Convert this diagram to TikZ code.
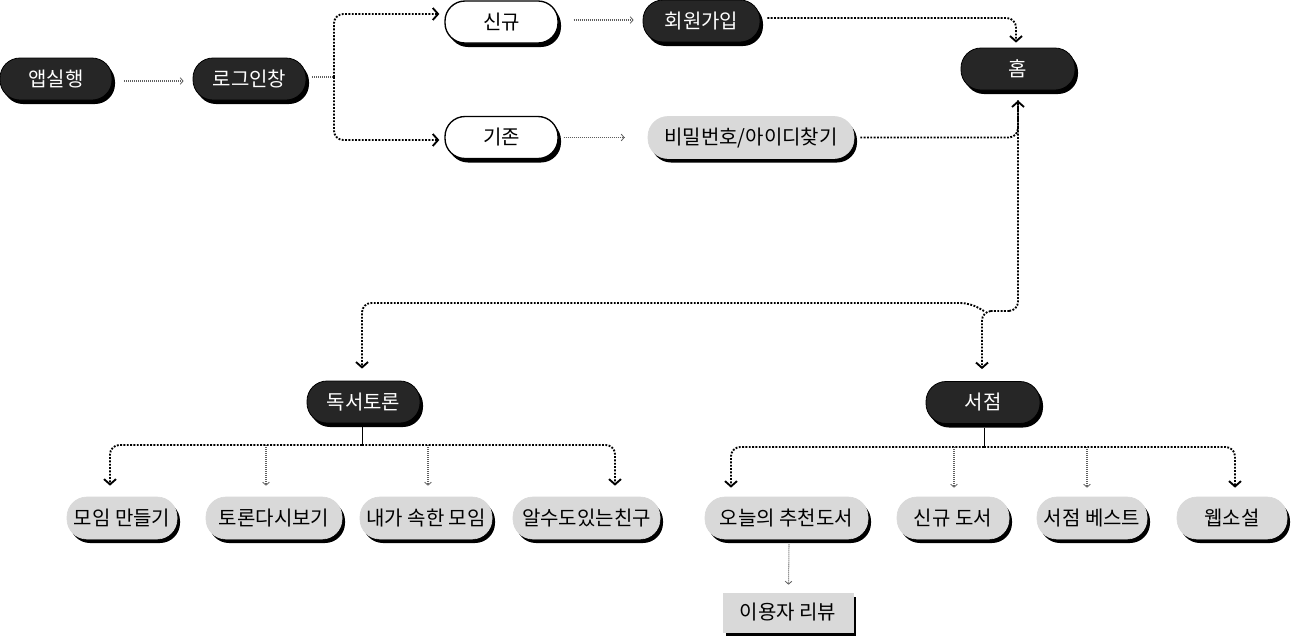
\documentclass[tikz,border=0pt]{standalone}
\usepackage{fontspec}
\setmainfont{Noto Sans CJK KR}
\usetikzlibrary{arrows.meta,shadows,calc}
\definecolor{dk}{HTML}{262626}
\definecolor{lg}{HTML}{D9D9D9}
\definecolor{gl}{HTML}{5E5E5E}
\begin{document}
\begin{tikzpicture}[x=0.75pt,y=-0.75pt,
  base/.style={minimum height=31.5pt, inner sep=0pt, rounded corners=15pt,
    font=\fontsize{15pt}{18pt}\selectfont,
    drop shadow={shadow xshift=2.25pt, shadow yshift=-3pt, opacity=1, fill=black}},
  dark/.style={base, fill=dk, draw=black, line width=0.6pt, text=white},
  light/.style={base, fill=white, draw=black, line width=1pt},
  grey/.style={base, fill=lg, draw=lg, line width=0.5pt},
  W/.style={minimum width=#1*0.75pt},
  blk/.style={line width=1.4pt, dash pattern=on 1.4pt off 1.1pt, rounded corners=7pt,
    -{Straight Barb[length=4pt,width=9pt,line width=1.4pt]}},
  gry/.style={draw=gl, line width=0.8pt, dash pattern=on 0.8pt off 0.7pt,
    -{Straight Barb[length=2.2pt,width=5pt,line width=0.6pt]}},
  gryline/.style={draw=gl, line width=0.8pt, dash pattern=on 0.8pt off 0.7pt},
  stem/.style={draw=black, line width=0.75pt}]
\fill[white] (0,0) rectangle (1294,640);
\useasboundingbox (0,0) rectangle (1294,640);

% top area nodes
\node[dark, W=112] (app) at (56,79) {앱실행};
\node[dark, W=113] (login) at (249.5,79) {로그인창};
\node[light, W=113] (sin) at (501.5,22) {신규};
\node[light, W=113] (gj) at (501.5,137.5) {기존};
\node[dark, W=117] (hy) at (701.5,21) {회원가입};
\node[grey, W=206] (pw) at (751,137.5) {비밀번호/아이디찾기};
\node[dark, W=114] (home) at (1018,69) {홈};

% parents
\node[dark, W=113] (dt) at (363.5,402) {독서토론};
\node[dark, W=114] (store) at (983,402.5) {서점};

% children
\node[grey, W=110] (c1) at (122,518) {모임 만들기};
\node[grey, W=136] (c2) at (274,518) {토론다시보기};
\node[grey, W=132] (c3) at (426,518) {내가 속한 모임};
\node[grey, W=147] (c4) at (586.5,518) {알수도있는친구};
\node[grey, W=163] (c5) at (786.5,518) {오늘의 추천도서};
\node[grey, W=112] (c6) at (953,518) {신규 도서};
\node[grey, W=110] (c7) at (1092,518) {서점 베스트};
\node[grey, W=110] (c8) at (1232,518) {웹소설};
\node[grey, W=130, rounded corners=0pt, minimum height=29.25pt] (review) at (788,612.5) {이용자 리뷰};

% connectors top
\draw[gry] ($(app.east)+(12,2)$) -- ($(login.west)+(-9,2)$);
\coordinate (split) at (334,77);
\draw[gryline] ($(login.east)+(6,-2)$) -- (split);
\draw[blk] (split) |- ($(sin.west)+(-5,-8)$);
\draw[blk] (split) |- ($(gj.west)+(-5,2.5)$);
\draw[gry] ($(sin.east)+(15,-2)$) -- ($(hy.west)+(-9,-1)$);
\draw[gry] ($(gj.east)+(5,0)$) -- ($(pw.west)+(-23,0)$);
\draw[blk] ($(hy.east)+(7,-3)$) -| ($(home.north)+(-2,-5)$);
\coordinate (hometip) at ($(home.south)+(0,10)$);
\draw[blk] ($(pw.east)+(6,0)$) -| (hometip);

% home to sections
\coordinate (j2) at (1000,311);
\coordinate (j3) at (984,311);
\draw[blk] (hometip) |- (j2) -| ($(store.north)+(-1,-12)$);
\draw[blk] (j3) -- (970,303) -| ($(dt.north)+(-1.5,-12)$);

% 독서토론 children
\coordinate (dj) at (362,445);
\draw[stem] ($(dt.south)+(-1.5,4)$) -- (dj);
\draw[blk] (dj) -| ($(c1.north)+(-12,-11)$);
\draw[blk] (dj) -| ($(c4.north)+(28.5,-11)$);
\coordinate (c2t) at ($(c2.north)+(-8,-11)$);
\coordinate (c3t) at ($(c3.north)+(2,-11)$);
\draw[gry] (c2t |- dj) -- (c2t);
\draw[gry] (c3t |- dj) -- (c3t);

% 서점 children
\coordinate (sj) at (984,447);
\draw[stem] ($(store.south)+(1,4)$) -- (sj);
\draw[blk] (sj) -| ($(c5.north)+(-55.5,-9)$);
\draw[blk] (sj) -| ($(c8.north)+(3,-9)$);
\coordinate (c6t) at ($(c6.north)+(1,-9)$);
\coordinate (c7t) at ($(c7.north)+(-5,-9)$);
\draw[gry] (c6t |- sj) -- (c6t);
\draw[gry] (c7t |- sj) -- (c7t);

% review
\draw[gry] ($(c5.south)+(2.5,5)$) -- ($(review.north)+(0.5,-8)$);
\end{tikzpicture}
\end{document}
